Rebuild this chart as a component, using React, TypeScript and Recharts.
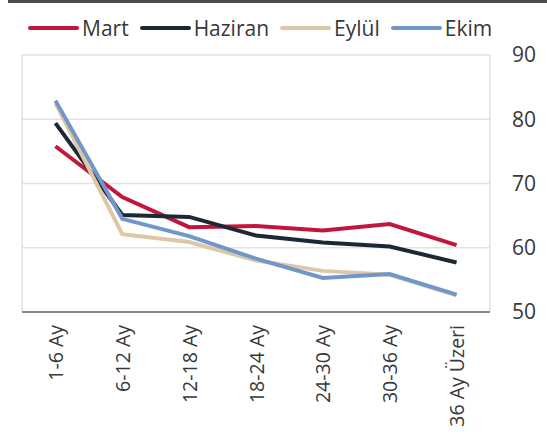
import React from "react";
import {
  CartesianGrid,
  Legend,
  Line,
  LineChart,
  XAxis,
  YAxis,
} from "recharts";

const categories = [
  "1-6 Ay",
  "6-12 Ay",
  "12-18 Ay",
  "18-24 Ay",
  "24-30 Ay",
  "30-36 Ay",
  "36 Ay Üzeri",
];
const mart = [75.8, 67.9, 63.2, 63.4, 62.7, 63.7, 60.4];
const haziran = [79.4, 65.1, 64.8, 61.9, 60.8, 60.2, 57.7];
const eylul = [82.5, 62.1, 60.9, 58.0, 56.4, 55.8, 52.6];
const ekim = [82.9, 64.5, 61.8, 58.3, 55.3, 55.9, 52.7];
const yTicks = [50, 60, 70, 80, 90];

const series = [
  { key: "mart", name: "Mart", color: "#c2173d" },
  { key: "haziran", name: "Haziran", color: "#1c2836" },
  { key: "eylul", name: "Eylül", color: "#dcc8a6" },
  { key: "ekim", name: "Ekim", color: "#7196c9" },
];

const data = categories.map((name, i) => ({
  pos: i + 0.5,
  name,
  mart: mart[i],
  haziran: haziran[i],
  eylul: eylul[i],
  ekim: ekim[i],
}));

const FONT = "'Open Sans', sans-serif";
const TEXT = "#383838";

function LegendRow() {
  return (
    <div style={{ display: "flex", alignItems: "center", paddingLeft: 6, fontFamily: FONT }}>
      {series.map((s) => (
        <div key={s.key} style={{ display: "flex", alignItems: "center", marginRight: 11 }}>
          <span
            style={{
              display: "inline-block",
              width: 51,
              height: 4,
              borderRadius: 2,
              background: s.color,
              marginRight: 3,
            }}
          />
          <span style={{ fontSize: 21, color: TEXT, lineHeight: "26px" }}>{s.name}</span>
        </div>
      ))}
    </div>
  );
}

function CategoryTick({ x, y, payload }: any) {
  const label = categories[Math.round(payload.value - 0.5)];
  return (
    <text
      x={0}
      y={0}
      transform={`translate(${x},${y + 5}) rotate(-90)`}
      textAnchor="end"
      dominantBaseline="central"
      fontSize={19.5}
      fontFamily={FONT}
      fill={TEXT}
    >
      {label}
    </text>
  );
}

export default function App() {
  return (
    <div style={{ position: "absolute", left: 0, top: 0, width: 547, height: 441, background: "#fff" }}>
      <div style={{ position: "absolute", left: 8, top: 0, width: 539, height: 3, background: "#4a4a4a" }} />
      <LineChart
        width={547}
        height={441}
        data={data}
        margin={{ top: 15, right: 0, bottom: 0, left: 22 }}
      >
        <Legend verticalAlign="top" align="left" height={40} content={() => <LegendRow />} />
        <CartesianGrid stroke="#e2e2e2" strokeWidth={1.5} />
        <XAxis
          xAxisId={0}
          dataKey="pos"
          type="number"
          domain={[0, 7]}
          ticks={[0, 1, 2, 3, 4, 5, 6, 7]}
          tick={false}
          height={8}
          tickSize={6}
          axisLine={{ stroke: "#8a8a8a", strokeWidth: 2 }}
          tickLine={{ stroke: "#8a8a8a", strokeWidth: 2 }}
        />
        <XAxis
          xAxisId="lbl"
          dataKey="pos"
          type="number"
          domain={[0, 7]}
          ticks={[0.5, 1.5, 2.5, 3.5, 4.5, 5.5, 6.5]}
          interval={0}
          height={121}
          axisLine={false}
          tickLine={false}
          tickSize={0}
          tickMargin={0}
          tick={<CategoryTick />}
        />
        <YAxis
          orientation="right"
          domain={[50, 90]}
          ticks={yTicks}
          width={57}
          axisLine={false}
          tickLine={false}
          tickSize={6}
          tickMargin={16}
          tick={{ fontSize: 21, fill: TEXT, fontFamily: FONT }}
        />
        {series.map((s) => (
          <Line
            key={s.key}
            xAxisId={0}
            dataKey={s.key}
            name={s.name}
            stroke={s.color}
            strokeWidth={4}
            dot={false}
            activeDot={false}
            isAnimationActive={false}
          />
        ))}
      </LineChart>
    </div>
  );
}
